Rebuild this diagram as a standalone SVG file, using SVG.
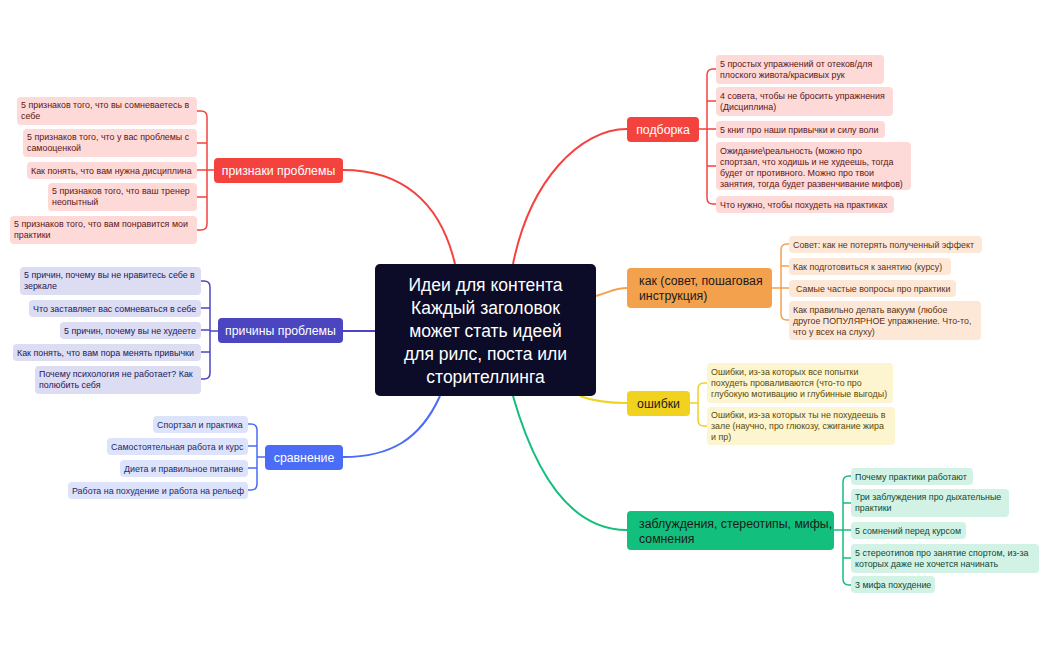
<svg xmlns="http://www.w3.org/2000/svg" width="1050" height="650" viewBox="0 0 1050 650">
<style>
text{font-family:"Liberation Sans",Arial,sans-serif}
.lf{font-size:8.9px}
.br{font-size:12.3px}
.c{fill:none;stroke-width:2}
.b{fill:none;stroke-width:1.5}
.r .lb{fill:#fdd9d8}.r .lf{fill:#5c1515}
.p .lb{fill:#dcdcf2}.p .lf{fill:#22205a}
.u .lb{fill:#dde3fb}.u .lf{fill:#1c2a6a}
.o .lb{fill:#fde8d8}.o .lf{fill:#5a3212}
.y .lb{fill:#fcf5cf}.y .lf{fill:#5a4a08}
.g .lb{fill:#d2f2e5}.g .lf{fill:#0f4a34}
</style>
<rect width="1050" height="650" fill="#fff"/>
<g id="connectors">
<path class="c" stroke="#f4433e" d="M455 264 C440 200 400 170 343 170"/>
<path class="c" stroke="#f4433e" d="M513 264 C530 180 580 129 627 129"/>
<path class="c" stroke="#4b45c0" d="M375 331 L343 331"/>
<path class="c" stroke="#4a6cf7" d="M440 396 C420 440 390 457 343 457"/>
<path class="c" stroke="#f4a14e" d="M596 296 C610 292 615 288 627 288"/>
<path class="c" stroke="#f0d21f" d="M580 396 C595 402 610 403 627 403"/>
<path class="c" stroke="#13bf7c" d="M513 396 C540 490 580 530 627 530"/>
<g stroke="#f4433e" class="b"><path d="M214 170 H207 M197 111 H201 Q207 111 207 117 V224 Q207 230 201 230 H197 M197 143 H207 M197 170 H207 M197 197 H207"/></g>
<g stroke="#4b45c0" class="b"><path d="M218 331 H210 M201 281 H204 Q210 281 210 287 V373 Q210 379 204 379 H201 M201 308 H210 M201 330 H210 M201 352 H210"/></g>
<g stroke="#4a6cf7" class="b"><path d="M265 457 H257 M248 424 H251 Q257 424 257 430 V484 Q257 490 251 490 H248 M248 446 H257 M248 468 H257"/></g>
<g stroke="#f4433e" class="b"><path d="M699 129 H716 M716 69 H713 Q707 69 707 75 V198 Q707 204 713 204 H716 M716 101 H707 M707 166 H716"/></g>
<g stroke="#f4a14e" class="b"><path d="M772 288 H789 M789 244 H787 Q781 244 781 250 V314 Q781 320 787 320 H789 M789 266 H781"/></g>
<g stroke="#f0d21f" class="b"><path d="M690 403 H698 M707 383 H704 Q698 383 698 389 V420 Q698 426 704 426 H707"/></g>
<g stroke="#13bf7c" class="b"><path d="M834 530 H851 M851 476 H849 Q843 476 843 482 V579 Q843 585 849 585 H851 M851 503 H843 M843 558 H851"/></g>
</g>
<g id="center">
<rect x="375" y="264" width="221" height="132" rx="5" fill="#0c0c28"/>
<g fill="#fff" font-size="17.5" text-anchor="middle">
<text x="485.5" y="291">Идеи для контента</text>
<text x="485.5" y="314">Каждый заголовок</text>
<text x="485.5" y="337">может стать идеей</text>
<text x="485.5" y="360">для рилс, поста или</text>
<text x="485.5" y="383">сторителлинга</text>
</g>
</g>
<g id="b-priznaki" class="r">
<rect x="214" y="158" width="129" height="25" rx="4" fill="#f4433e"/>
<text class="br" x="278.5" y="175" fill="#fff" text-anchor="middle">признаки проблемы</text>
<rect class="lb" x="17" y="97" width="180" height="28" rx="4"/><text class="lf" x="21" y="108">5 признаков того, что вы сомневаетесь в</text><text class="lf" x="21" y="119">себе</text>
<rect class="lb" x="23" y="129" width="174" height="28" rx="4"/><text class="lf" x="27" y="140">5 признаков того, что у вас проблемы с</text><text class="lf" x="27" y="151">самооценкой</text>
<rect class="lb" x="27" y="162" width="170" height="17" rx="4"/><text class="lf" x="31" y="174">Как понять, что вам нужна дисциплина</text>
<rect class="lb" x="48" y="183" width="149" height="28" rx="4"/><text class="lf" x="52" y="194">5 признаков того, что ваш тренер</text><text class="lf" x="52" y="205">неопытный</text>
<rect class="lb" x="10" y="216" width="187" height="28" rx="4"/><text class="lf" x="14" y="227">5 признаков того, что вам понравится мои</text><text class="lf" x="14" y="238">практики</text>
</g>
<g id="b-prichiny" class="p">
<rect x="218" y="318" width="125" height="25" rx="4" fill="#4b45c0"/>
<text class="br" x="280.5" y="335" fill="#fff" text-anchor="middle">причины проблемы</text>
<rect class="lb" x="20" y="267" width="181" height="28" rx="4"/><text class="lf" x="24" y="278">5 причин, почему вы не нравитесь себе в</text><text class="lf" x="24" y="289">зеркале</text>
<rect class="lb" x="29" y="300" width="172" height="17" rx="4"/><text class="lf" x="33" y="312">Что заставляет вас сомневаться в себе</text>
<rect class="lb" x="60" y="322" width="141" height="17" rx="4"/><text class="lf" x="64" y="334">5 причин, почему вы не худеете</text>
<rect class="lb" x="13" y="344" width="188" height="17" rx="4"/><text class="lf" x="17" y="356">Как понять, что вам пора менять привычки</text>
<rect class="lb" x="35" y="366" width="166" height="28" rx="4"/><text class="lf" x="39" y="377">Почему психология не работает? Как</text><text class="lf" x="39" y="388">полюбить себя</text>
</g>
<g id="b-sravnenie" class="u">
<rect x="265" y="445" width="78" height="25" rx="4" fill="#4a6cf7"/>
<text class="br" x="304" y="462" fill="#fff" text-anchor="middle">сравнение</text>
<rect class="lb" x="153" y="416" width="95" height="17" rx="4"/><text class="lf" x="157" y="428">Спортзал и практика</text>
<rect class="lb" x="107" y="438" width="141" height="17" rx="4"/><text class="lf" x="111" y="450">Самостоятельная работа и курс</text>
<rect class="lb" x="120" y="460" width="128" height="17" rx="4"/><text class="lf" x="124" y="472">Диета и правильное питание</text>
<rect class="lb" x="68" y="482" width="180" height="17" rx="4"/><text class="lf" x="72" y="494">Работа на похудение и работа на рельеф</text>
</g>
<g id="b-podborka" class="r">
<rect x="627" y="117" width="72" height="25" rx="4" fill="#f4433e"/>
<text class="br" x="663" y="134" fill="#fff" text-anchor="middle">подборка</text>
<rect class="lb" x="716" y="55" width="168" height="29" rx="4"/><text class="lf" x="720" y="67">5 простых упражнений от отеков/для</text><text class="lf" x="720" y="78">плоского живота/красивых рук</text>
<rect class="lb" x="716" y="87" width="177" height="29" rx="4"/><text class="lf" x="720" y="99">4 совета, чтобы не бросить упражнения</text><text class="lf" x="720" y="110">(Дисциплина)</text>
<rect class="lb" x="716" y="121" width="169" height="17" rx="4"/><text class="lf" x="720" y="133">5 книг про наши привычки и силу воли</text>
<rect class="lb" x="716" y="142" width="195" height="48" rx="4"/><text class="lf" x="720" y="154">Ожидание\реальность (можно про</text><text class="lf" x="720" y="165">спортзал, что ходишь и не худеешь, тогда</text><text class="lf" x="720" y="176">будет от противного. Можно про твои</text><text class="lf" x="720" y="187">занятия, тогда будет развенчивание мифов)</text>
<rect class="lb" x="716" y="196" width="178" height="17" rx="4"/><text class="lf" x="720" y="208">Что нужно, чтобы похудеть на практиках</text>
</g>
<g id="b-kak" class="o">
<rect x="627" y="268" width="145" height="40" rx="4" fill="#f4a14e"/>
<text class="br" x="639" y="285" fill="#1a1a1a">как (совет, пошаговая</text><text class="br" x="639" y="300" fill="#1a1a1a">инструкция)</text>
<rect class="lb" x="789" y="236" width="193" height="17" rx="4"/><text class="lf" x="793" y="248">Совет: как не потерять полученный эффект</text>
<rect class="lb" x="789" y="258" width="162" height="17" rx="4"/><text class="lf" x="793" y="270">Как подготовиться к занятию (курсу)</text>
<rect class="lb" x="789" y="280" width="167" height="17" rx="4"/><text class="lf" x="796" y="292">Самые частые вопросы про практики</text>
<rect class="lb" x="789" y="301" width="192" height="39" rx="4"/><text class="lf" x="793" y="313">Как правильно делать вакуум (любое</text><text class="lf" x="793" y="324">другое ПОПУЛЯРНОЕ упражнение. Что-то,</text><text class="lf" x="793" y="335">что у всех на слуху)</text>
</g>
<g id="b-oshibki" class="y">
<rect x="627" y="391" width="63" height="25" rx="4" fill="#f0d21f"/>
<text class="br" x="658.5" y="408" fill="#1a1a1a" text-anchor="middle">ошибки</text>
<rect class="lb" x="707" y="363" width="186" height="40" rx="4"/><text class="lf" x="711" y="375">Ошибки, из-за которых все попытки</text><text class="lf" x="711" y="386">похудеть проваливаются (что-то про</text><text class="lf" x="711" y="397">глубокую мотивацию и глубинные выгоды)</text>
<rect class="lb" x="707" y="407" width="188" height="38" rx="4"/><text class="lf" x="711" y="418">Ошибки, из-за которых ты не похудеешь в</text><text class="lf" x="711" y="429">зале (научно, про глюкозу, сжигание жира</text><text class="lf" x="711" y="440">и пр)</text>
</g>
<g id="b-mify" class="g">
<rect x="627" y="511" width="207" height="39" rx="4" fill="#13bf7c"/>
<text class="br" x="639" y="528" fill="#1a1a1a">заблуждения, стереотипы, мифы,</text><text class="br" x="639" y="543" fill="#1a1a1a">сомнения</text>
<rect class="lb" x="851" y="468" width="122" height="17" rx="4"/><text class="lf" x="855" y="480">Почему практики работают</text>
<rect class="lb" x="851" y="489" width="158" height="28" rx="4"/><text class="lf" x="855" y="500">Три заблуждения про дыхательные</text><text class="lf" x="855" y="511">практики</text>
<rect class="lb" x="851" y="522" width="115" height="17" rx="4"/><text class="lf" x="855" y="534">5 сомнений перед курсом</text>
<rect class="lb" x="851" y="544" width="188" height="29" rx="4"/><text class="lf" x="855" y="556">5 стереотипов про занятие спортом, из-за</text><text class="lf" x="855" y="567">которых даже не хочется начинать</text>
<rect class="lb" x="851" y="576" width="84" height="17" rx="4"/><text class="lf" x="855" y="588">3 мифа похудение</text>
</g>
</svg>
